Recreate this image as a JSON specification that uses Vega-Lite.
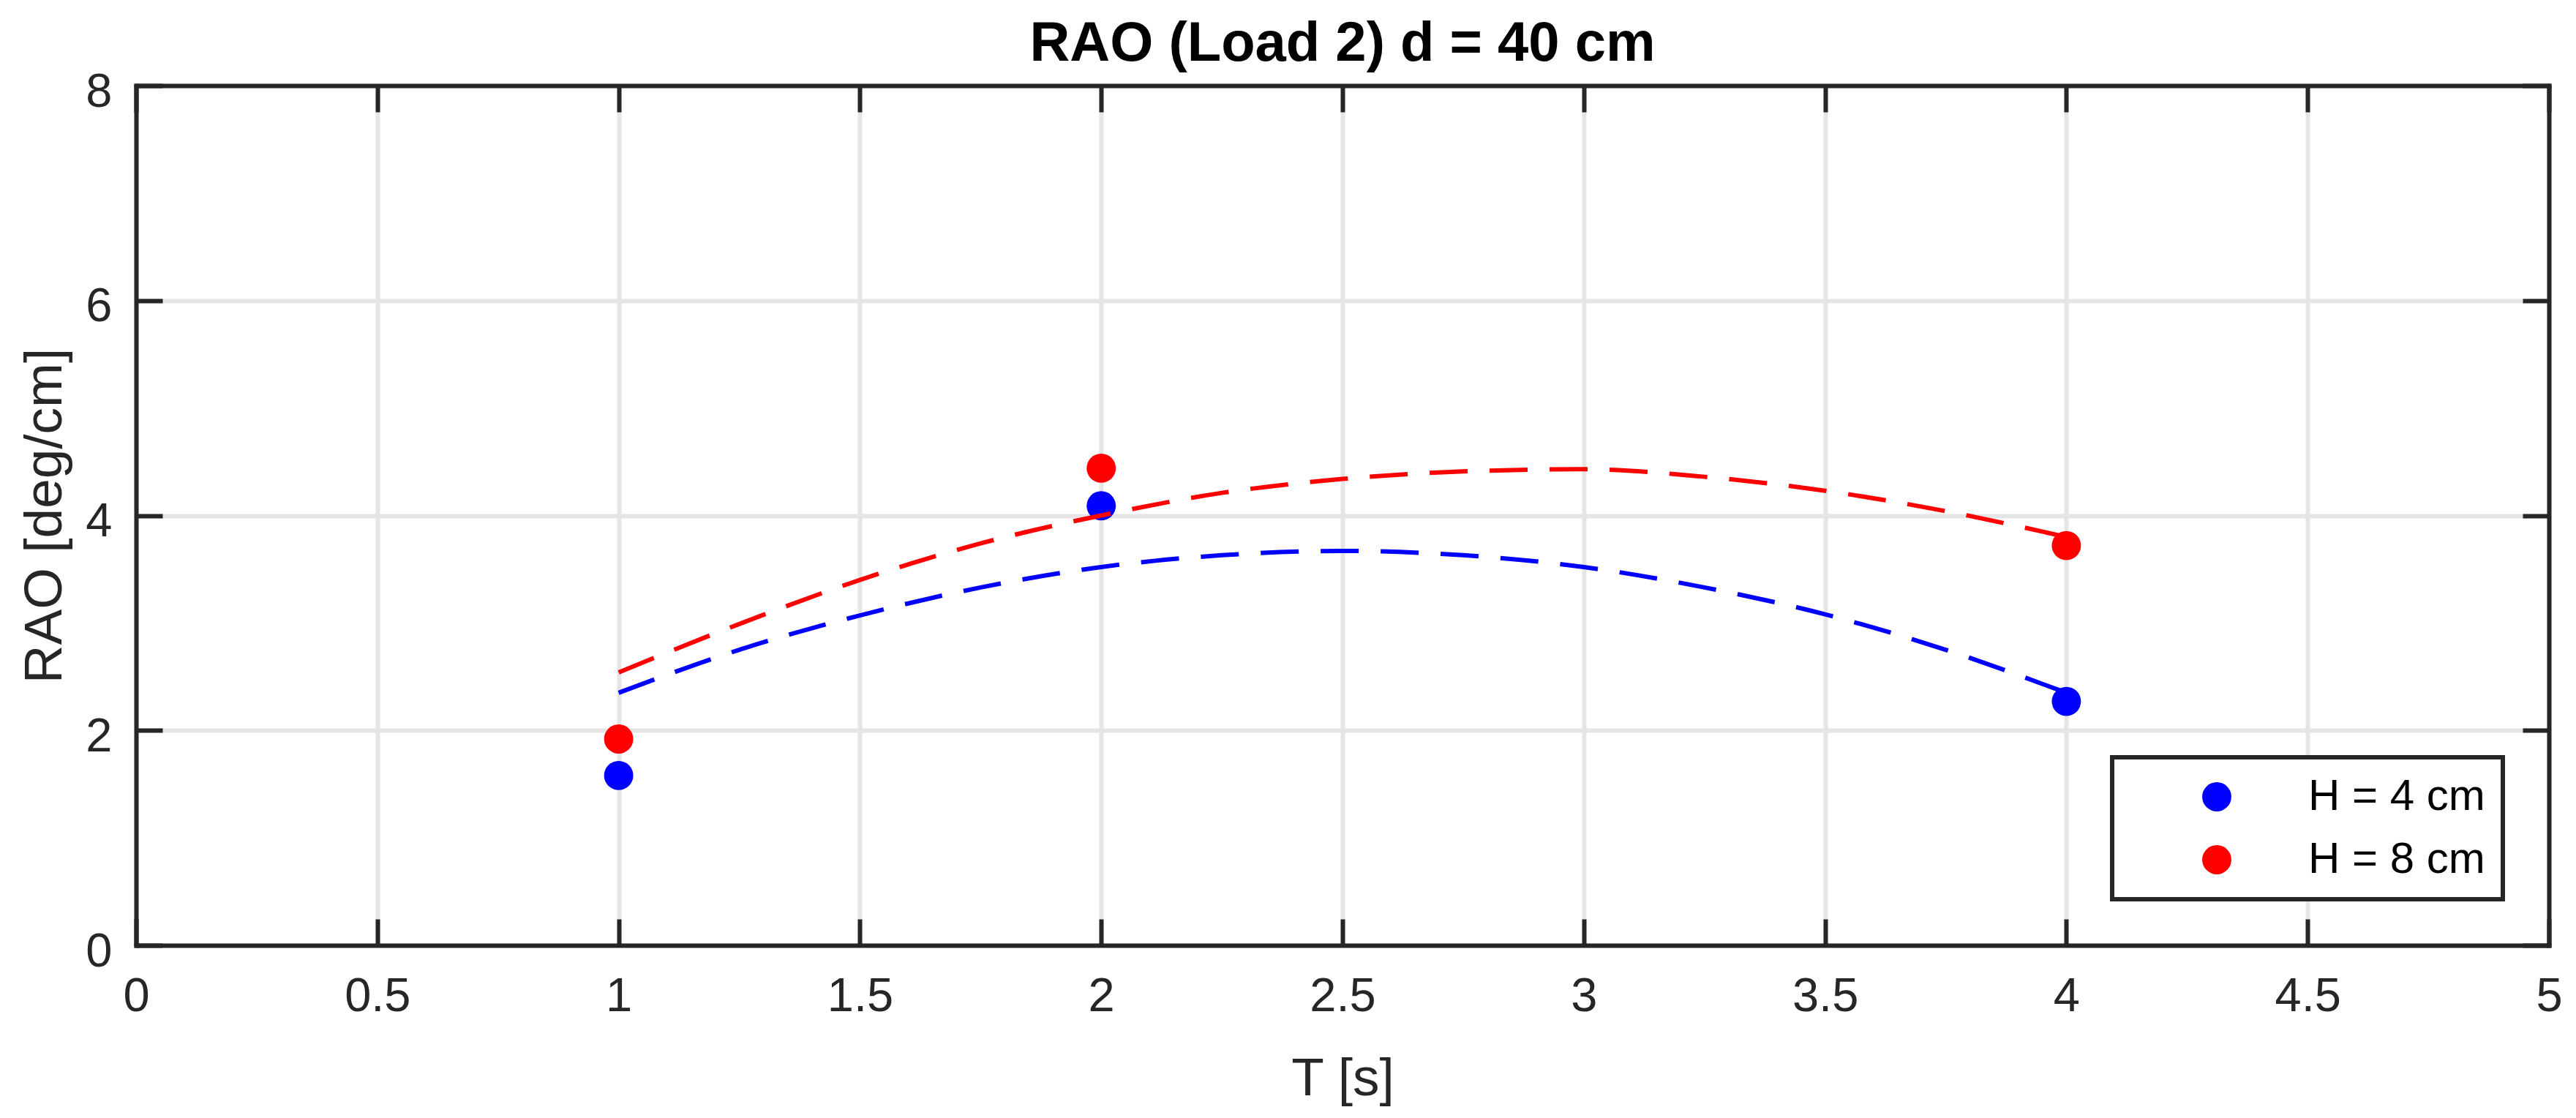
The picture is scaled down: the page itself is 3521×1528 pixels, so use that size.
{
  "$schema": "https://vega.github.io/schema/vega-lite/v6.json",
  "description": "RAO against wave period for two wave heights, measured points and dashed fit curves.",
  "width": 3298,
  "height": 1175,
  "autosize": {"type": "none"},
  "padding": {"left": 186, "top": 117, "right": 37, "bottom": 236},
  "background": "white",
  "config": {"view": {"stroke": null}, "font": "Liberation Sans"},
  "title": {
    "text": "RAO (Load 2) d = 40 cm",
    "font": "Liberation Sans",
    "fontSize": 76,
    "fontWeight": "bold",
    "color": "#000000",
    "anchor": "middle",
    "offset": -6
  },
  "datasets": {
    "measured": [
      {"T": 1, "RAO": 1.58, "H": "H = 4 cm"},
      {"T": 2, "RAO": 4.09, "H": "H = 4 cm"},
      {"T": 4, "RAO": 2.27, "H": "H = 4 cm"},
      {"T": 1, "RAO": 1.92, "H": "H = 8 cm"},
      {"T": 2, "RAO": 4.44, "H": "H = 8 cm"},
      {"T": 4, "RAO": 3.72, "H": "H = 8 cm"}
    ],
    "fit": [
      {"T": 1.0, "RAO": 2.35, "H": "H = 4 cm"},
      {"T": 1.25, "RAO": 2.75, "H": "H = 4 cm"},
      {"T": 1.5, "RAO": 3.07, "H": "H = 4 cm"},
      {"T": 1.75, "RAO": 3.33, "H": "H = 4 cm"},
      {"T": 2.0, "RAO": 3.52, "H": "H = 4 cm"},
      {"T": 2.25, "RAO": 3.63, "H": "H = 4 cm"},
      {"T": 2.5, "RAO": 3.67, "H": "H = 4 cm"},
      {"T": 2.75, "RAO": 3.63, "H": "H = 4 cm"},
      {"T": 3.0, "RAO": 3.52, "H": "H = 4 cm"},
      {"T": 3.25, "RAO": 3.33, "H": "H = 4 cm"},
      {"T": 3.5, "RAO": 3.08, "H": "H = 4 cm"},
      {"T": 3.75, "RAO": 2.75, "H": "H = 4 cm"},
      {"T": 4.0, "RAO": 2.35, "H": "H = 4 cm"},
      {"T": 1.0, "RAO": 2.54, "H": "H = 8 cm"},
      {"T": 1.25, "RAO": 2.99, "H": "H = 8 cm"},
      {"T": 1.5, "RAO": 3.40, "H": "H = 8 cm"},
      {"T": 1.75, "RAO": 3.74, "H": "H = 8 cm"},
      {"T": 2.0, "RAO": 4.00, "H": "H = 8 cm"},
      {"T": 2.25, "RAO": 4.21, "H": "H = 8 cm"},
      {"T": 2.5, "RAO": 4.34, "H": "H = 8 cm"},
      {"T": 2.75, "RAO": 4.41, "H": "H = 8 cm"},
      {"T": 3.0, "RAO": 4.43, "H": "H = 8 cm"},
      {"T": 3.25, "RAO": 4.36, "H": "H = 8 cm"},
      {"T": 3.5, "RAO": 4.23, "H": "H = 8 cm"},
      {"T": 3.75, "RAO": 4.04, "H": "H = 8 cm"},
      {"T": 4.0, "RAO": 3.80, "H": "H = 8 cm"}
    ]
  },
  "layer": [
    {
      "data": {"name": "measured"},
      "mark": {"type": "point", "shape": "circle", "filled": true, "size": 1590, "opacity": 1},
      "encoding": {
        "x": {
          "field": "T",
          "type": "quantitative",
          "scale": {"domain": [0, 5], "nice": false},
          "axis": {
            "orient": "bottom",
            "values": [0, 0.5, 1, 1.5, 2, 2.5, 3, 3.5, 4, 4.5, 5],
            "format": "~g",
            "grid": true,
            "gridColor": "#e5e5e5",
            "gridWidth": 6,
            "domainColor": "#262626",
            "domainWidth": 6,
            "domainCap": "square",
            "tickColor": "#262626",
            "tickWidth": 6,
            "tickSize": -36,
            "labelPadding": 74,
            "labelFlush": false,
            "labelOverlap": false,
            "labelFont": "Liberation Sans",
            "labelFontSize": 65,
            "labelColor": "#262626",
            "title": "T [s]",
            "titleFont": "Liberation Sans",
            "titleFontSize": 73,
            "titleFontWeight": "normal",
            "titleColor": "#262626",
            "titlePadding": 44
          }
        },
        "y": {
          "field": "RAO",
          "type": "quantitative",
          "scale": {"domain": [0, 8], "nice": false},
          "axis": {
            "orient": "left",
            "values": [0, 2, 4, 6, 8],
            "grid": true,
            "gridColor": "#e5e5e5",
            "gridWidth": 6,
            "domainColor": "#262626",
            "domainWidth": 6,
            "domainCap": "square",
            "tickColor": "#262626",
            "tickWidth": 6,
            "tickSize": -36,
            "labelPadding": 69,
            "labelOffset": 8,
            "labelFlush": false,
            "labelOverlap": false,
            "labelFont": "Liberation Sans",
            "labelFontSize": 65,
            "labelColor": "#262626",
            "title": "RAO [deg/cm]",
            "titleFont": "Liberation Sans",
            "titleFontSize": 73,
            "titleFontWeight": "normal",
            "titleColor": "#262626",
            "titlePadding": 18
          }
        },
        "color": {
          "field": "H",
          "type": "nominal",
          "scale": {"domain": ["H = 4 cm", "H = 8 cm"], "range": ["#0000ff", "#ff0000"]},
          "legend": {
            "title": null,
            "orient": "bottom-right",
            "offset": 63,
            "padding": 24,
            "fillColor": "white",
            "strokeColor": "#262626",
            "labelFont": "Liberation Sans",
            "labelFontSize": 60,
            "labelColor": "#000000",
            "labelLimit": 1000,
            "labelOffset": 95,
            "symbolType": "circle",
            "symbolSize": 1590,
            "symbolStrokeWidth": 0,
            "symbolOpacity": 1,
            "symbolOffset": 89,
            "rowPadding": 26,
            "encode": {"legend": {"update": {"strokeWidth": {"value": 6}}}}
          }
        }
      }
    },
    {
      "data": {"name": "fit"},
      "mark": {"type": "line", "strokeDash": [52, 30], "strokeWidth": 6, "interpolate": "monotone"},
      "encoding": {
        "x": {
          "field": "T",
          "type": "quantitative",
          "axis": {
            "orient": "top",
            "values": [0, 0.5, 1, 1.5, 2, 2.5, 3, 3.5, 4, 4.5, 5],
            "labels": false,
            "grid": false,
            "title": null,
            "domainColor": "#262626",
            "domainWidth": 6,
            "domainCap": "square",
            "tickColor": "#262626",
            "tickWidth": 6,
            "tickSize": -36
          }
        },
        "y": {
          "field": "RAO",
          "type": "quantitative",
          "axis": {
            "orient": "right",
            "values": [0, 2, 4, 6, 8],
            "labels": false,
            "grid": false,
            "title": null,
            "domainColor": "#262626",
            "domainWidth": 6,
            "domainCap": "square",
            "tickColor": "#262626",
            "tickWidth": 6,
            "tickSize": -36
          }
        },
        "stroke": {
          "field": "H",
          "type": "nominal",
          "scale": {"domain": ["H = 4 cm", "H = 8 cm"], "range": ["#0000ff", "#ff0000"]},
          "legend": null
        }
      }
    }
  ],
  "resolve": {"axis": {"x": "independent", "y": "independent"}}
}
